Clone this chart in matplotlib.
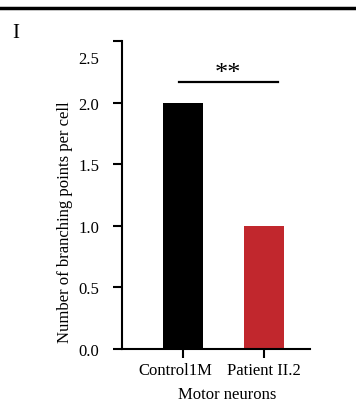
import matplotlib
matplotlib.use('Agg')
import matplotlib.pyplot as plt
import matplotlib.transforms as mtransforms
from matplotlib.lines import Line2D

groups = ['Control1M', 'Patient II.2']
values = [2.0, 1.0]
colors = ['#000000', '#c1272d']
yticks = [0.0, 0.5, 1.0, 1.5, 2.0, 2.5]
sig_y = 2.17
sig_text = '**'

plt.rcParams['font.family'] = ['Liberation Serif', 'DejaVu Serif']

fig = plt.figure(figsize=(3.56, 4.02), dpi=100)
ax = fig.add_axes([0.3427, 0.1294, 0.5281, 0.7661])

x = range(len(groups))
ax.bar(x, values, width=0.49, color=colors)

# significance bar
ax.plot([-0.05, 1.17], [sig_y, sig_y], color='black', lw=1.6, clip_on=False)
ax.text(0.56, sig_y - 0.02, sig_text, ha='center', va='bottom', fontsize=19)

ax.set_xlim(-0.75, 1.57)
ax.set_ylim(0, 2.5)
ax.set_xticks(list(x))
ax.set_xticklabels(groups, fontsize=12)
ax.set_yticks(yticks)
ax.set_yticklabels(['%.1f' % v for v in yticks], fontsize=12)
ax.set_xlabel('Motor neurons', fontsize=12)
ax.set_ylabel('Number of branching points per cell', fontsize=12)
ax.xaxis.set_label_coords(0.56, -0.12)
ax.yaxis.set_label_coords(-0.26, 0.416)

for s in ['top', 'right']:
    ax.spines[s].set_visible(False)
for s in ['left', 'bottom']:
    ax.spines[s].set_linewidth(1.5)
ax.tick_params(width=1.5, length=6.5)
ax.tick_params(axis='y', pad=10)
ax.tick_params(axis='x', pad=3)

# the 2.5 label sits lower than its tick in the original
lab = ax.get_yticklabels()[-1]
lab.set_transform(lab.get_transform() + mtransforms.ScaledTranslation(0, -0.16, fig.dpi_scale_trans))
# first group label is a little left of its tick
xl = ax.get_xticklabels()[0]
xl.set_transform(xl.get_transform() + mtransforms.ScaledTranslation(-0.07, 0, fig.dpi_scale_trans))

fig.add_artist(Line2D([0, 1], [0.978, 0.978], color='black', lw=2.5, transform=fig.transFigure))
fig.text(0.034, 0.905, 'I', fontsize=15)

fig.savefig('out.png', dpi=100)
